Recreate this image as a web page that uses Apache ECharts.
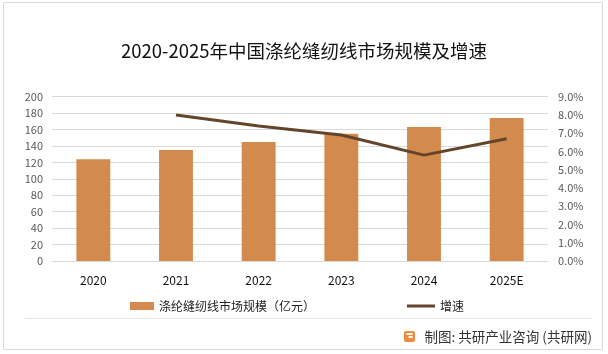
<!DOCTYPE html>
<html>
<head>
<meta charset="utf-8">
<script src="https://cdn.jsdelivr.net/npm/echarts@6/dist/echarts.min.js"></script>
<style>html,body{margin:0;padding:0;background:#fff}#c{width:608px;height:354px}</style>
</head>
<body>
<div id="c"></div>
<script>
const categories = ['2020','2021','2022','2023','2024','2025E'];
const marketSize = [124, 135, 145, 155, 163, 174];
const growth = [null, 8.0, 7.4, 6.9, 5.8, 6.7];
const leftTicks = {min:0, max:200, interval:20};
const rightTicks = {min:0, max:9, interval:1};

const FONT = '"Noto Sans CJK SC", "Noto Sans", sans-serif';
const chart = echarts.init(document.getElementById('c'), null, {renderer:'canvas'});
chart.setOption({
  backgroundColor:'#fff',
  animation:false,
  title:{text:'2020-2025年中国涤纶缝纫线市场规模及增速', left:'center', top:37,
    textStyle:{fontFamily:FONT, fontSize:18.5, fontWeight:'normal', color:'#111'}},
  grid:{left:52, right:60, top:96.7, bottom:93},
  legend:[
    {data:[{name:'涤纶缝纫线市场规模（亿元）', icon:'rect'}], left:125, top:295, itemWidth:24, itemHeight:8, itemGap:8,
      textStyle:{fontFamily:FONT, fontSize:12, color:'#222'}},
    {data:[{name:'增速', icon:'rect'}], left:402, top:295, itemWidth:28, itemHeight:3, itemGap:4,
      textStyle:{fontFamily:FONT, fontSize:12, color:'#222'}}
  ],
  xAxis:{type:'category', data:categories,
    axisLine:{lineStyle:{color:'#d9d9d9'}}, axisTick:{show:false},
    axisLabel:{color:'#111', fontSize:12, margin:13, fontFamily:FONT}},
  yAxis:[
    {type:'value', min:leftTicks.min, max:leftTicks.max, interval:leftTicks.interval,
     axisLine:{show:false}, axisTick:{show:false},
     splitLine:{lineStyle:{color:'#d9d9d9'}},
     axisLabel:{color:'#595959', fontSize:11, margin:9, fontFamily:FONT}},
    {type:'value', min:rightTicks.min, max:rightTicks.max, interval:rightTicks.interval,
     axisLine:{show:false}, axisTick:{show:false}, splitLine:{show:false},
     axisLabel:{color:'#595959', fontSize:11, margin:10, fontFamily:FONT,
       formatter:v=>v.toFixed(1)+'%'}}
  ],
  series:[
    {name:'涤纶缝纫线市场规模（亿元）', type:'bar', data:marketSize, barWidth:'41%',
     itemStyle:{color:'#D38B4D'}},
    {name:'增速', type:'line', yAxisIndex:1, data:growth, symbol:'none', smooth:false,
     lineStyle:{color:'#654529', width:3}, itemStyle:{color:'#654529'}}
  ],
  graphic:[
    {type:'rect', shape:{x:3.5, y:2.5, width:599, height:347}, style:{fill:'none', stroke:'#d9d9d9', lineWidth:1}, silent:true},
    {type:'line', shape:{x1:25, y1:318.5, x2:592, y2:318.5}, style:{stroke:'#e6e6e6', lineWidth:1}, silent:true},
    {type:'rect', shape:{x:404, y:331, width:11, height:11, r:2}, style:{fill:'#F08A3C'}},
    {type:'rect', shape:{x:406.5, y:333, width:6, height:2}, style:{fill:'#fff'}},
    {type:'rect', shape:{x:408.5, y:336, width:4, height:2}, style:{fill:'#fff'}},
    {type:'text', style:{text:'制图: 共研产业咨询 (共研网)', x:592, y:336.5, align:'right', verticalAlign:'middle',
      font:'13.5px '+FONT, fill:'#333'}}
  ]
});
</script>
</body>
</html>
